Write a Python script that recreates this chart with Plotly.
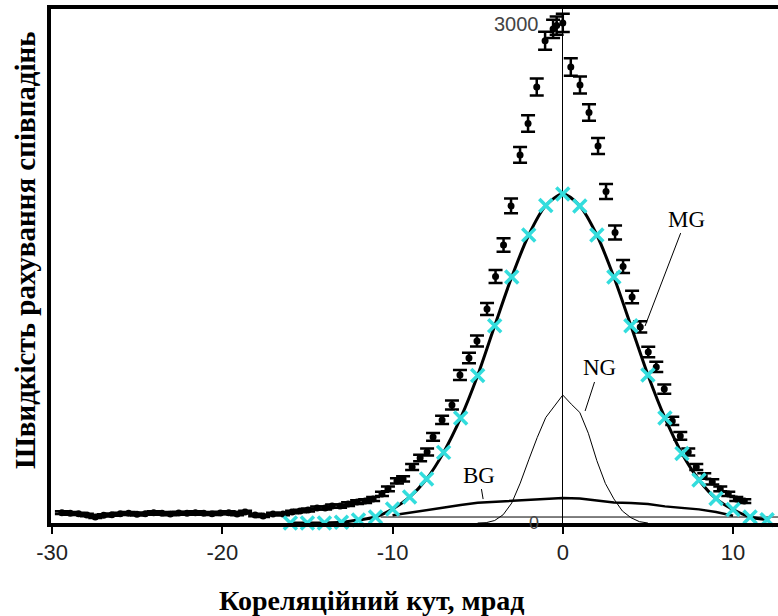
import plotly.graph_objects as go

# ---------------- data ----------------
# measured coincidence counts (black dots with error bars)
cnt_x = [-29.42, -28.93, -28.44, -27.95, -27.46, -26.97, -26.48, -25.99, -25.5, -25.01,
         -24.52, -24.03, -23.54, -23.05, -22.56, -22.07, -21.58, -21.09, -20.6, -20.11, -19.62,
         -19.13, -18.66, -18.07, -17.6, -17.02, -16.43, -15.9, -15.43, -14.96, -14.43,
         -13.96, -13.55, -13.08, -12.61, -12.08, -11.61, -11.14, -10.62, -10.27, -9.74,
         -9.38, -8.85, -8.38, -7.97, -7.62, -7.09, -6.51, -6.04, -5.51, -5.04,
         -4.45, -3.95, -3.48, -3.04, -2.51, -2.04, -1.53, -1.04, -0.57, -0.36, 0.0,
         0.47, 1.01, 1.54, 2.07, 2.54, 3.07, 3.54, 4.07, 4.55, 5.02,
         5.49, 5.96, 6.43, 6.9, 7.37, 7.84, 8.31, 8.78, 9.25, 9.72, 10.19, 10.66]
cnt_y = [62, 58, 55, 48, 36, 46, 50, 55, 58, 52,
         56, 62, 58, 54, 60, 58, 62, 58, 55, 60, 62,
         54, 66, 48, 42, 54, 54, 66, 72, 78, 90,
         90, 102, 102, 114, 126, 132, 144, 175, 205, 253,
         265, 337, 391, 427, 518, 620, 710, 891, 993, 1095,
         1288, 1483, 1673, 1908, 2215, 2404, 2624, 2902, 2973, 2993, 3009,
         2744, 2636, 2470, 2269, 1995, 1748, 1544, 1360, 1180, 1029,
         939, 806, 614, 524, 427, 337, 283, 247, 205, 175, 144, 132]
cnt_err = [8, 8, 7, 7, 6, 7, 7, 7, 8, 7,
           7, 8, 8, 7, 8, 8, 8, 8, 7, 8, 8,
           7, 8, 7, 6, 7, 7, 8, 8, 9, 9,
           9, 10, 10, 11, 11, 11, 12, 13, 14, 16,
           16, 18, 20, 21, 23, 25, 27, 30, 32, 33,
           36, 39, 41, 44, 47, 49, 51, 54, 55, 55, 55,
           52, 51, 50, 48, 45, 42, 39, 37, 34, 32,
           31, 28, 25, 23, 21, 18, 17, 16, 14, 13, 12, 11]

# MG model (cyan crosses + thick curve)
mg_x = [-16, -15, -14, -13, -12, -11, -10, -9, -8, -7, -6, -5, -4, -3, -2, -1, 0,
        1, 2, 3, 4, 5, 6, 7, 8, 9, 10, 11, 12]
mg_y = [0, 0, 0, 4, 18, 36, 84, 156, 265, 425, 632, 888, 1187, 1480, 1733, 1910, 1980,
        1908, 1733, 1480, 1187, 891, 632, 418, 259, 147, 81, 36, 20]

# BG component (broad curve)
bg_x = [-10, -9, -8, -7, -6, -5, -4, -3, -2, -1, 0, 1, 2, 3, 4, 5, 6, 7, 8, 9, 10]
bg_y = [46, 62, 80, 92, 108, 122, 128, 134, 140, 145, 150, 148, 136, 124, 120, 114, 100, 92, 82, 66, 44]

# NG component (narrow curve)
ng_x = [-5, -4.5, -4, -3.5, -3, -2.5, -2, -1.5, -1, -0.5, 0, 0.5, 1, 1.5, 2, 2.5, 3, 3.5, 4, 4.5, 5]
ng_y = [0, 2, 15, 50, 120, 240, 380, 515, 635, 700, 770, 715, 665, 540, 375, 238, 145, 72, 32, 8, 0]

x_ticks = [-30, -20, -10, 0, 10]
x_tick_text = ["-30", "-20", "-10", "0", "10"]
x_range = [-30.06, 12.64]
y_range = [0, 3093]
baseline_level = 36
baseline_start = -10.7

# ---------------- figure ----------------
fig = go.Figure()

fig.add_trace(go.Scatter(
    x=cnt_x, y=cnt_y, mode="markers",
    marker=dict(color="black", size=7),
    error_y=dict(type="data", array=cnt_err, visible=True, color="black",
                 thickness=2.5, width=7),
    cliponaxis=False, hoverinfo="skip"))

fig.add_trace(go.Scatter(x=ng_x, y=ng_y, mode="lines",
                         line=dict(color="black", width=1)))
fig.add_trace(go.Scatter(x=bg_x, y=bg_y, mode="lines",
                         line=dict(color="black", width=2.5)))
fig.add_trace(go.Scatter(x=mg_x, y=mg_y, mode="lines",
                         line=dict(color="black", width=3, shape="spline", smoothing=0.8)))
fig.add_trace(go.Scatter(x=mg_x, y=mg_y, mode="markers",
                         marker=dict(symbol="x-thin", size=13,
                                     line=dict(color="#33DDDD", width=3.5)),
                         cliponaxis=False))

fig.add_shape(type="line", xref="x", yref="y", x0=baseline_start, x1=x_range[1],
              y0=baseline_level, y1=baseline_level,
              line=dict(color="black", width=1), layer="below")

serif = "Liberation Serif, Times New Roman, serif"
sans = "Liberation Sans, Arial, sans-serif"

annotations = [
    dict(text="Кореляційний кут, мрад", xref="paper", yref="paper",
         x=0.4415, y=-0.15, xanchor="center", yanchor="middle", showarrow=False,
         font=dict(family=serif, size=28, color="black", weight="bold")),
    dict(text="Швидкість рахування співпадінь", xref="paper", yref="paper",
         x=-0.0358, y=0.531, xanchor="center", yanchor="middle", textangle=-90,
         showarrow=False,
         font=dict(family=serif, size=29, color="black", weight="bold")),
    dict(text="3000", x=0, y=3000, xanchor="right", xshift=-22, showarrow=False,
         font=dict(family=sans, size=20, color="#444")),
    dict(text="0", x=0, y=0, xanchor="right", xshift=-22, showarrow=False,
         font=dict(family=sans, size=18, color="#444")),
    dict(text="MG", x=4.83, y=1185, ax=41, ay=-107, showarrow=True, arrowhead=0,
         arrowwidth=1, arrowcolor="black", standoff=0,
         font=dict(family=serif, size=23, color="black")),
    dict(text="NG", x=1.31, y=674, ax=14, ay=-43, showarrow=True, arrowhead=0,
         arrowwidth=1, arrowcolor="black", standoff=0,
         font=dict(family=serif, size=23, color="black")),
    dict(text="BG", x=-4.68, y=144, ax=-4, ay=-24, showarrow=True, arrowhead=0,
         arrowwidth=1, arrowcolor="black", standoff=0,
         font=dict(family=serif, size=23, color="black")),
]

fig.update_layout(
    width=778, height=616,
    margin=dict(l=51, r=0, t=9, b=93),
    paper_bgcolor="white", plot_bgcolor="white",
    showlegend=False,
    hovermode=False,
    annotations=annotations,
    xaxis=dict(range=x_range, tickvals=x_ticks, ticktext=x_tick_text,
               showline=True, linewidth=4, linecolor="black", mirror=True,
               ticks="outside", ticklen=7, tickwidth=2, tickcolor="black",
               showgrid=False, zeroline=True, zerolinecolor="black", zerolinewidth=1,
               tickfont=dict(family=sans, size=22, color="#222")),
    yaxis=dict(range=y_range, showline=True, linewidth=4, linecolor="black",
               mirror=False, showticklabels=False, ticks="", showgrid=False,
               zeroline=False),
)

fig.write_html("out.html",
               config={"displayModeBar": False, "staticPlot": True},
               post_script="document.body.style.margin='0';document.body.style.overflow='hidden';")
